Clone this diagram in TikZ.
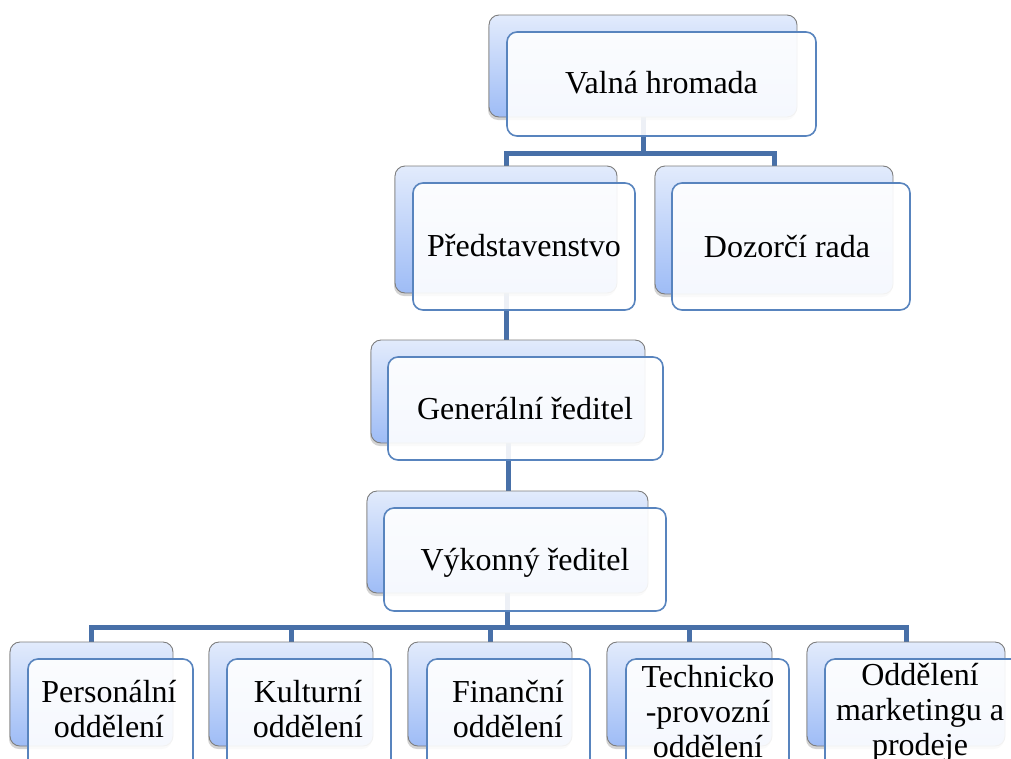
\documentclass[tikz,border=0pt]{standalone}
\usepackage{fontspec}
\setmainfont{Liberation Serif}
\usetikzlibrary{fit,shadows}
\definecolor{conn}{RGB}{72,112,168}
\definecolor{bluetop}{RGB}{226,235,252}
\definecolor{bluebot}{RGB}{158,188,246}
\definecolor{frontblue}{RGB}{88,132,190}
\definecolor{backedge}{RGB}{125,125,125}
\pgfdeclarelayer{bg}
\pgfsetlayers{bg,main}
\tikzset{
  backbox/.style={rectangle, rounded corners=10pt, draw=backedge, line width=0.9pt,
    top color=bluetop, bottom color=bluebot, inner sep=0pt, outer sep=0pt,
    drop shadow={shadow xshift=-1pt, shadow yshift=-3pt, opacity=0.35}},
  frontbox/.style={rectangle, rounded corners=10pt, draw=frontblue, line width=1.6pt,
    fill=white, fill opacity=0.9, inner sep=0pt, outer sep=0pt},
  txt/.style={font=\fontsize{32}{35}\selectfont, align=center, inner sep=0pt, text=black},
  connector/.style={draw=conn, line width=5pt}
}
\begin{document}
\begin{tikzpicture}[x=1pt,y=-1pt]
\useasboundingbox (0,0) rectangle (1011,758);
\clip (0,0) rectangle (1011,758);
% level 1
\node[backbox, fit={(489,15) (797,117)}] (vh) {};
\node[frontbox, fit={(507,32) (816,136)}] (vhf) {};
\node[txt, anchor=base] (vht) at (661.5,93) {Valná hromada};
% level 2
\node[backbox, fit={(395,166) (617,293)}] (ps) {};
\node[frontbox, fit={(413,183) (635,310)}] (psf) {};
\node[txt, anchor=base] (pst) at (524,256) {Představenstvo};
\node[backbox, fit={(655,166) (893,294)}] (ds) {};
\node[frontbox, fit={(672,183) (910,310)}] (dsf) {};
\node[txt, anchor=base] (dst) at (787,257) {Dozorčí rada};
% level 3
\node[backbox, fit={(371,340) (645,443)}] (gr) {};
\node[frontbox, fit={(388,357) (663,460)}] (grf) {};
\node[txt, anchor=base] (grt) at (525,419) {Generální ředitel};
% level 4
\node[backbox, fit={(367,491) (648,593)}] (vy) {};
\node[frontbox, fit={(384,508) (666,611)}] (vyf) {};
\node[txt, anchor=base] (vyt) at (525,570) {Výkonný ředitel};
% level 5
\node[backbox, fit={(10,642) (173,746)}] (pe) {};
\node[frontbox, fit={(28,659) (193,775)}] (pef) {};
\node[txt, anchor=base] (pet) at (109,737) {Personální\\oddělení};
\node[backbox, fit={(209,642) (373,746)}] (ku) {};
\node[frontbox, fit={(227,659) (391,775)}] (kuf) {};
\node[txt, anchor=base] (kut) at (308,737) {Kulturní\\oddělení};
\node[backbox, fit={(408,642) (572,746)}] (fi) {};
\node[frontbox, fit={(427,659) (590,775)}] (fif) {};
\node[txt, anchor=base] (fit) at (508,737) {Finanční\\oddělení};
\node[backbox, fit={(607,642) (772,746)}] (te) {};
\node[frontbox, fit={(626,659) (789,775)}] (tef) {};
\node[txt, anchor=base] (tet) at (708,757) {Technicko\\-provozní\\oddělení};
\node[backbox, fit={(807,642) (1005,746)}] (mk) {};
\node[frontbox, fit={(825,659) (1023,775)}] (mkf) {};
\node[txt, anchor=base] (mkt) at (920,755) {Oddělení\\marketingu a\\prodeje};
% connectors
\begin{pgfonlayer}{bg}
\coordinate (h1) at (0,153);
\coordinate (h2) at (0,627);
\draw[connector] (vh.south) -- (vh.south |- h1);
\draw[connector] (ps.north) |- (ds.north |- h1) -- (ds.north);
\draw[connector] (ps.south) -- (ps.south |- gr.north);
\draw[connector] (gr.south) -- (gr.south |- vy.north);
\draw[connector] (vy.south) -- (vy.south |- h2);
\draw[connector] (pe.north) |- (mk.north |- h2) -- (mk.north);
\draw[connector] (ku.north) -- (ku.north |- h2);
\draw[connector] (fi.north) -- (fi.north |- h2);
\draw[connector] (te.north) -- (te.north |- h2);
\end{pgfonlayer}
\end{tikzpicture}
\end{document}
